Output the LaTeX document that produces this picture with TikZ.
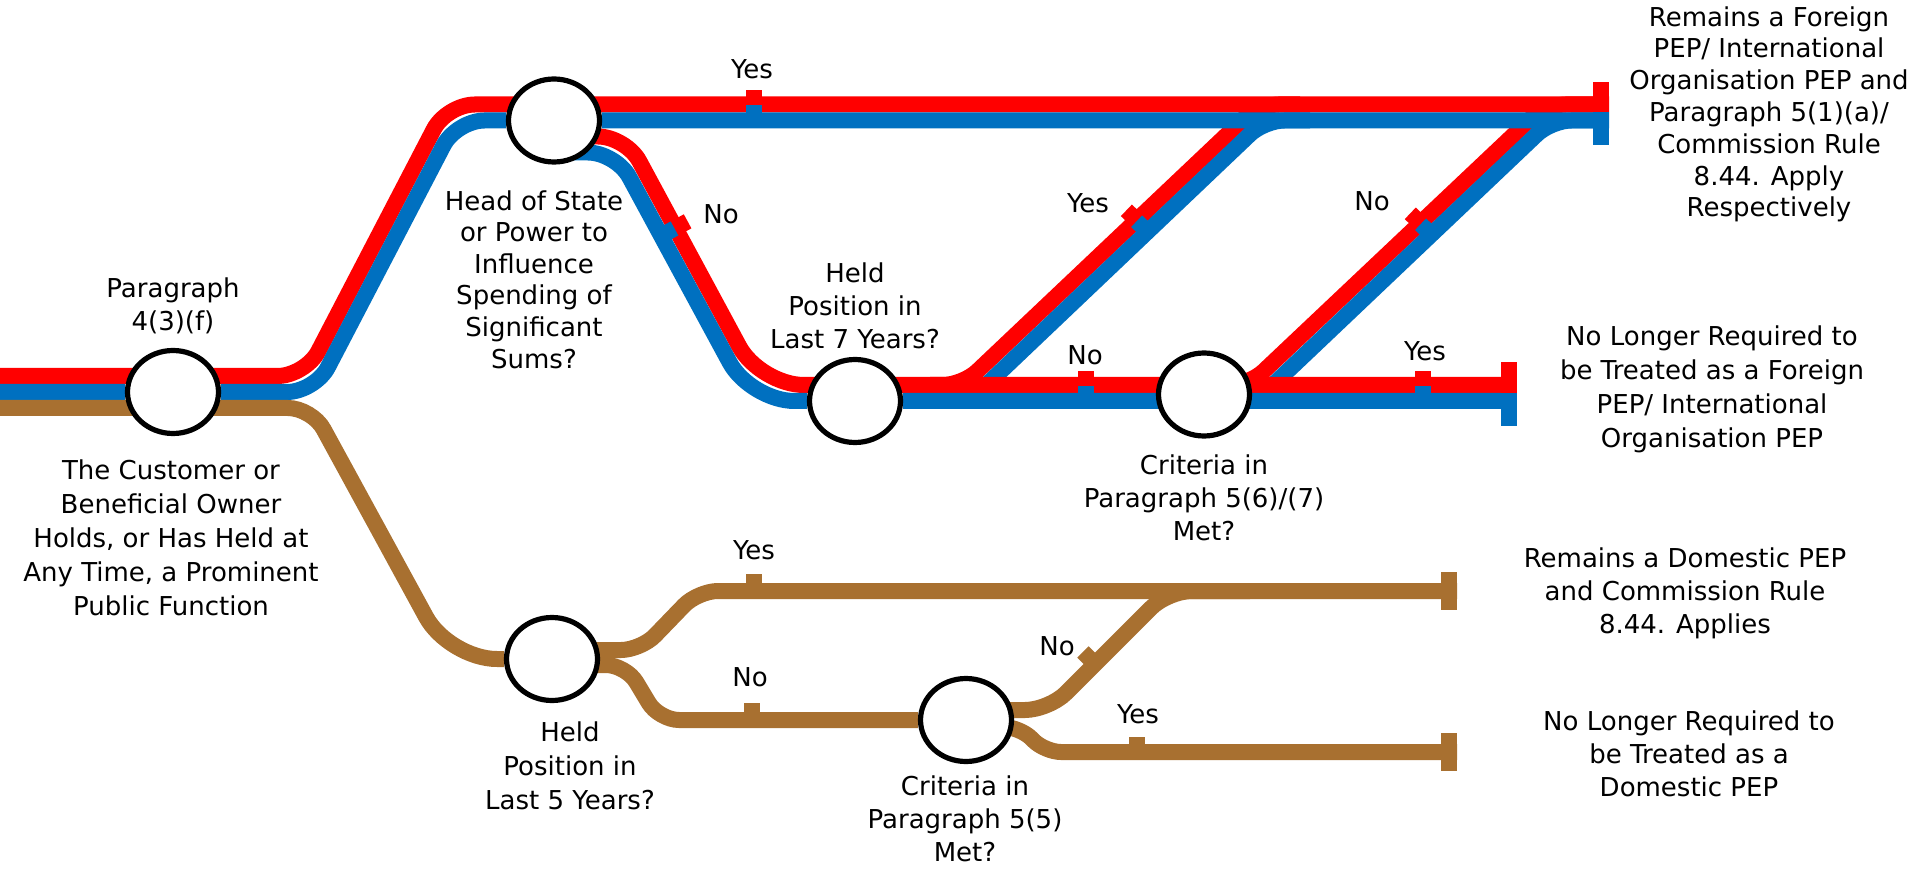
\documentclass[tikz,border=0pt]{standalone}
\usepackage{fontspec}
\setmainfont{DejaVu Sans}
\usetikzlibrary{shapes.geometric,calc,backgrounds}

\definecolor{pepred}{RGB}{255,0,0}
\definecolor{pepblue}{RGB}{0,112,192}
\definecolor{pepbrown}{RGB}{168,112,48}

\tikzset{
  redtrack/.style={draw=pepred, line width=8pt, rounded corners=#1},
  redtrack/.default=14pt,
  bluetrack/.style={draw=pepblue, line width=8pt, rounded corners=#1},
  bluetrack/.default=14pt,
  browntrack/.style={draw=pepbrown, line width=8pt, rounded corners=#1},
  browntrack/.default=14pt,
  redtick/.style={draw=pepred, line width=8pt},
  bluetick/.style={draw=pepblue, line width=8pt},
  browntick/.style={draw=pepbrown, line width=8pt},
  station/.style={ellipse, draw=black, line width=2.6pt, fill=white,
    minimum width=45.5pt, minimum height=41.5pt, inner sep=0pt},
  stationtext/.style={align=center, inner sep=0pt, anchor=north,
    font=\fontsize{13pt}{16.5pt}\selectfont},
  yesno/.style={inner sep=0pt, font=\fontsize{13pt}{16.5pt}\selectfont}
}

\begin{document}
\begin{tikzpicture}[x=0.5pt, y=-0.5pt]
  \useasboundingbox (0,0) rectangle (1911,871);

  % stations
  \node[station] (q1) at (173,392) {};
  \node[station] (q2) at (554,120.5) {};
  \node[station] (q3) at (855,401) {};
  \node[station] (q4) at (1204,394.5) {};
  \node[station] (q5) at (552,659) {};
  \node[station] (q6) at (966,720) {};

  % line ends
  \coordinate (tF1) at (1601,112.5);
  \coordinate (tF2) at (1508.5,393);
  \coordinate (tD1) at (1449,591);
  \coordinate (tD2) at (1449,752);

  \begin{scope}[on background layer]
    % links from the middle line up to the top line
    \draw[redtrack=10pt] (930,385) -- (962.7,385) -- (1258.8,104.5) -- (1300,104.5);
    \draw[bluetrack=10pt] (940,401) -- (969.5,401) -- (1264.5,120.5) -- (1310,120.5);
    \draw[redtrack=10pt] ($(q4)+(0,-9.5)$) -- (1249,385) -- (1545.8,104.5) -- ($(tF1)+(0,-8)$);
    \draw[bluetrack=10pt] ($(q4)+(0,6.5)$) -- (1256,401) -- (1551.5,120.5) -- ($(tF1)+(0,8)$);

    % middle line
    \draw[redtrack] ($(q2)+(0,16)$) -- (626,136.5) [rounded corners=22pt] -- (760,385)
      -- ($(q3)+(0,-16)$) -- ($(q4)+(0,-9.5)$) -- ($(tF2)+(8,-8)$);
    \draw[bluetrack] ($(q2)+(0,32)$) -- (616,152.5) [rounded corners=22pt] -- (750.5,401)
      -- (q3) -- ($(q4)+(0,6.5)$) -- ($(tF2)+(8,8)$);

    % top line
    \draw[redtrack] (0,376) -- ($(q1)+(0,-16)$) -- (305.5,376) -- (446.7,104.5)
      -- ($(q2)+(0,-16)$) -- ($(tF1)+(8,-8)$);
    \draw[bluetrack] (0,392) -- (q1) -- (315,392) -- (456.5,120.5)
      -- (q2) -- ($(tF1)+(8,8)$);

    % domestic line
    \draw[browntrack=12pt] (0,408) -- ($(q1)+(0,16)$) -- (312,408) [rounded corners=24pt] -- (449,659) -- (q5);
    \draw[browntrack=10pt] ($(q5)+(0,-9)$) -- (641,650) -- (698,591) -- ($(tD1)+(8,0)$);
    \draw[browntrack=10pt] ($(q5)+(0,6)$) -- (626,665) -- (659,720) -- (q6);
    \draw[browntrack=12pt] ($(q6)+(0,-10)$) -- (1049,710) -- (1168,591) -- (1250,591);
    \draw[browntrack=8pt] ($(q6)+(0,7)$) -- (1020,727) -- (1045,752) -- ($(tD2)+(8,0)$);

    % ticks
    \draw[redtick] (754,104.5) -- ++(0,-14);
    \draw[bluetick] (754,120.5) -- ++(0,-15);
    \draw[redtick] (675.3,228) -- ++(-28.4:14);
    \draw[bluetick] (661.3,235.6) -- ++(-28.4:15);
    \draw[redtick] (1136.5,220) -- ++(-136.4:14);
    \draw[bluetick] (1147.5,231.6) -- ++(-136.4:15);
    \draw[redtick] (1420.4,223) -- ++(-136.4:14);
    \draw[bluetick] (1431.4,234.6) -- ++(-136.4:15);
    \draw[redtick] (1086,385) -- ++(0,-14);
    \draw[bluetick] (1086,401) -- ++(0,-15);
    \draw[redtick] (1423,385) -- ++(0,-14);
    \draw[bluetick] (1423,401) -- ++(0,-15);
    \draw[browntick] (754,591) -- ++(0,-17);
    \draw[browntick] (752,720) -- ++(0,-17);
    \draw[browntick] (1095,664) -- ++(-135:17);
    \draw[browntick] (1137,752) -- ++(0,-15);

    % buffers
    \draw[redtick] (tF1) -- ++(0,-30);
    \draw[bluetick] (tF1) -- ++(0,32.5);
    \draw[redtick] (tF2) -- ++(0,-31);
    \draw[bluetick] (tF2) -- ++(0,33);
    \draw[browntick] ($(tD1)+(0,-19)$) -- ($(tD1)+(0,19)$);
    \draw[browntick] ($(tD2)+(0,-19)$) -- ($(tD2)+(0,19)$);
  \end{scope}

  % station texts
  \node[stationtext] (l1a) at (173,277) {Paragraph\\4(3)(f)};
  \node[stationtext, font=\fontsize{13pt}{17pt}\selectfont] (l1b) at (171,459)
    {The Customer or\\Beneficial Owner\\Holds, or Has Held at\\Any Time, a Prominent\\Public Function};
  \node[stationtext, font=\fontsize{13pt}{15.8pt}\selectfont] (l2) at (534,190)
    {Head of State\\or Power to\\Influence\\Spending of\\Significant\\Sums?};
  \node[stationtext] (l3) at (855,262) {Held\\Position in\\Last 7 Years?};
  \node[stationtext] (l4) at (1204,454) {Criteria in\\Paragraph 5(6)/(7)\\Met?};
  \node[stationtext, font=\fontsize{13pt}{17pt}\selectfont] (l5) at (570,721) {Held\\Position in\\Last 5 Years?};
  \node[stationtext] (l6) at (965,775) {Criteria in\\Paragraph 5(5)\\Met?};

  % outcomes
  \node[stationtext, font=\fontsize{13pt}{15.9pt}\selectfont] (e1) at (1769,6)
    {Remains a Foreign\\PEP/ International\\Organisation PEP and\\Paragraph 5(1)(a)/\\Commission Rule\\8.44. Apply\\Respectively};
  \node[stationtext, font=\fontsize{13pt}{17pt}\selectfont] (e2) at (1712,325)
    {No Longer Required to\\be Treated as a Foreign\\PEP/ International\\Organisation PEP};
  \node[stationtext] (e3) at (1685,547) {Remains a Domestic PEP\\and Commission Rule\\8.44. Applies};
  \node[stationtext] (e4) at (1689,710) {No Longer Required to\\be Treated as a\\Domestic PEP};

  % answers
  \node[yesno] (y1) at (752,69.5) {Yes};
  \node[yesno] (n1) at (721,214) {No};
  \node[yesno] (y2) at (1088,203) {Yes};
  \node[yesno] (n2) at (1372,201) {No};
  \node[yesno] (n3) at (1085,355) {No};
  \node[yesno] (y3) at (1425,351) {Yes};
  \node[yesno] (y4) at (754,550) {Yes};
  \node[yesno] (n4) at (750,677) {No};
  \node[yesno] (n5) at (1057,646) {No};
  \node[yesno] (y5) at (1138,714) {Yes};
\end{tikzpicture}
\end{document}
